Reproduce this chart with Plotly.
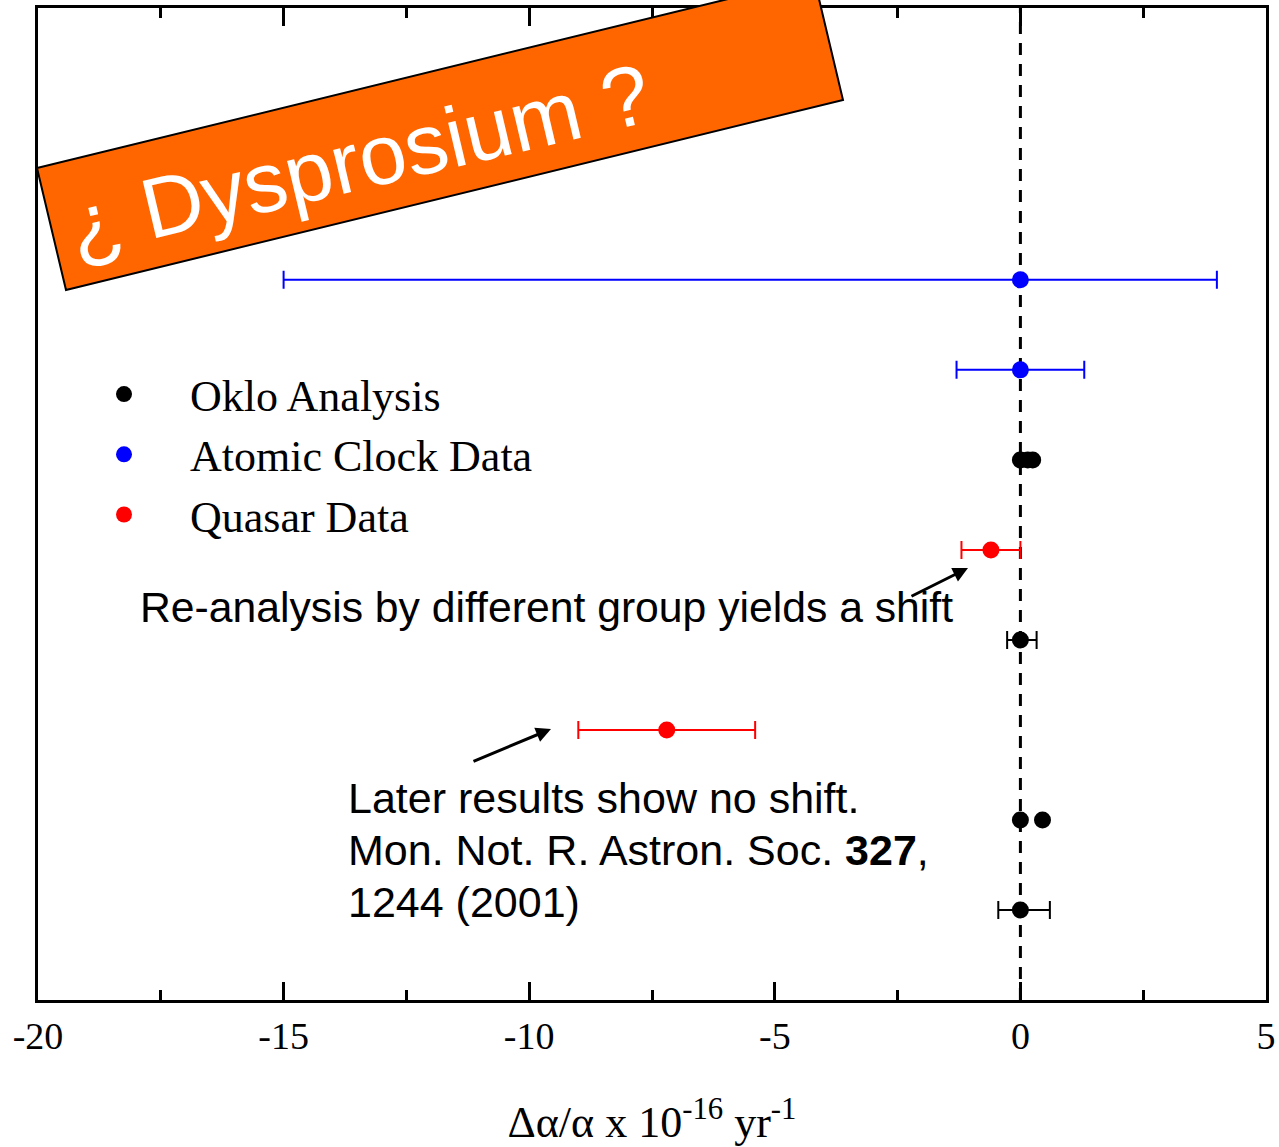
import plotly.graph_objects as go

# Rows on the vertical axis (1 = bottom row)
oklo_x = [0.0, 0.0]
oklo_y = [4, 1]
oklo_err_plus = [0.33, 0.6]
oklo_err_minus = [0.27, 0.45]

oklo_pts_x = [0.0, 0.15, 0.25, 0.0, 0.45]
oklo_pts_y = [6, 6, 6, 2, 2]

clock_x = [0.0, 0.0]
clock_y = [8, 7]
clock_err_plus = [4.0, 1.3]
clock_err_minus = [15.0, 1.3]

quasar_x = [-0.6, -7.2]
quasar_y = [5, 3]
quasar_err_plus = [0.6, 1.8]
quasar_err_minus = [0.6, 1.8]

x_ticks = [-20, -15, -10, -5, 0, 5]

note_lines = ["Later results show no shift.",
              "Mon. Not. R. Astron. Soc. <b>327</b>,",
              "1244 (2001)"]

W, H = 1279, 1147
L, R, T, B = 38, 13, 8, 147
PW, PH = W - L - R, H - T - B

SERIF = "Times New Roman, Liberation Serif, serif"
SANS = "Arial, Liberation Sans, sans-serif"


def px(x):
    return (x - L) / PW


def py(y):
    return (H - B - y) / PH


def err(plus, minus, color):
    return dict(type="data", symmetric=False, array=plus, arrayminus=minus,
                color=color, thickness=2, width=9)


fig = go.Figure()

fig.add_trace(go.Scatter(
    x=oklo_x, y=oklo_y, mode="markers", name="Oklo Analysis",
    legendgroup="oklo",
    marker=dict(color="black", size=17),
    error_x=err(oklo_err_plus, oklo_err_minus, "black")))
fig.add_trace(go.Scatter(
    x=oklo_pts_x, y=oklo_pts_y, mode="markers", name="Oklo Analysis",
    legendgroup="oklo", showlegend=False,
    marker=dict(color="black", size=17)))
fig.add_trace(go.Scatter(
    x=clock_x, y=clock_y, mode="markers", name="Atomic Clock Data",
    marker=dict(color="#0000ff", size=17),
    error_x=err(clock_err_plus, clock_err_minus, "#0000ff")))
fig.add_trace(go.Scatter(
    x=quasar_x, y=quasar_y, mode="markers", name="Quasar Data",
    marker=dict(color="#ff0000", size=17),
    error_x=err(quasar_err_plus, quasar_err_minus, "#ff0000")))

# Dashed zero line
fig.add_shape(type="line", xref="x", yref="paper", x0=0, x1=0, y0=0, y1=1,
              line=dict(color="black", width=3, dash="12px,9px"), layer="below")

# Tilted orange banner
corners = [(37, 168), (66, 290), (843, 100), (814, -22)]
path = "M " + " L ".join(f"{px(a):.5f},{py(b):.5f}" for a, b in corners) + " Z"
fig.add_shape(type="path", xref="paper", yref="paper", path=path,
              fillcolor="#ff6600", line=dict(color="black", width=2), layer="above")
# Banner caption, carried as the label of an invisible guide line along the banner
cx, cy, half = 357, 152, 200
dx, dy = 0.9732 * half, 0.2300 * half
fig.add_shape(type="line", xref="paper", yref="paper",
              x0=px(cx - dx), y0=py(cy + dy), x1=px(cx + dx), y1=py(cy - dy),
              line=dict(color="rgba(0,0,0,0)", width=1), layer="above",
              label=dict(text="¿ Dysprosium ?", textangle=-13.3,
                         textposition="middle", yanchor="middle", padding=0,
                         font=dict(family=SANS, size=85, color="white")))

# Notes and arrows
fig.add_annotation(xref="paper", yref="paper", x=px(138), y=py(607),
                   xanchor="left", yanchor="middle", showarrow=False,
                   text="Re-analysis by different group yields a shift",
                   font=dict(family=SANS, size=42.7, color="black"))
fig.add_annotation(xref="paper", yref="paper", x=px(968), y=py(568),
                   ax=-58, ay=29, text="", showarrow=True, arrowhead=2,
                   arrowsize=1, arrowwidth=3, arrowcolor="black", standoff=0)
for i, line in enumerate(note_lines):
    fig.add_annotation(xref="paper", yref="paper", x=px(346), y=py(798 + 52 * i),
                       xanchor="left", yanchor="middle", showarrow=False,
                       text=line, font=dict(family=SANS, size=43, color="black"))
fig.add_annotation(xref="paper", yref="paper", x=px(551), y=py(729),
                   ax=-79, ay=33, text="", showarrow=True, arrowhead=2,
                   arrowsize=1, arrowwidth=3, arrowcolor="black", standoff=0)

fig.update_layout(
    width=W, height=H,
    margin=dict(l=L, r=R, t=T, b=B, pad=0, autoexpand=False),
    paper_bgcolor="white", plot_bgcolor="white",
    showlegend=True,
    legend=dict(x=px(58), y=py(359), xanchor="left", yanchor="top",
                bgcolor="rgba(0,0,0,0)", itemwidth=122,
                font=dict(family=SERIF, size=44, color="black"),
                traceorder="normal"),
    xaxis=dict(range=[-20, 5], tickvals=x_ticks, automargin=False,
               ticktext=[str(v) for v in x_ticks],
               ticks="inside", ticklen=18, tickwidth=3, tickcolor="black",
               minor=dict(tickvals=[-17.5, -12.5, -7.5, -2.5, 2.5],
                          ticks="inside", ticklen=10, tickwidth=3, tickcolor="black"),
               showline=True, linewidth=3, linecolor="black", mirror="ticks",
               showgrid=False, zeroline=False,
               tickfont=dict(family=SERIF, size=38, color="black"),
               title=dict(text="Δα/α x 10<sup>-16</sup> yr<sup>-1</sup>",
                          font=dict(family=SERIF, size=44, color="black"),
                          standoff=57)),
    yaxis=dict(range=[0, 11.02], showticklabels=False, ticks="", automargin=False,
               showline=True, linewidth=3, linecolor="black", mirror=True,
               showgrid=False, zeroline=False),
)

fig.write_html("out.html")
